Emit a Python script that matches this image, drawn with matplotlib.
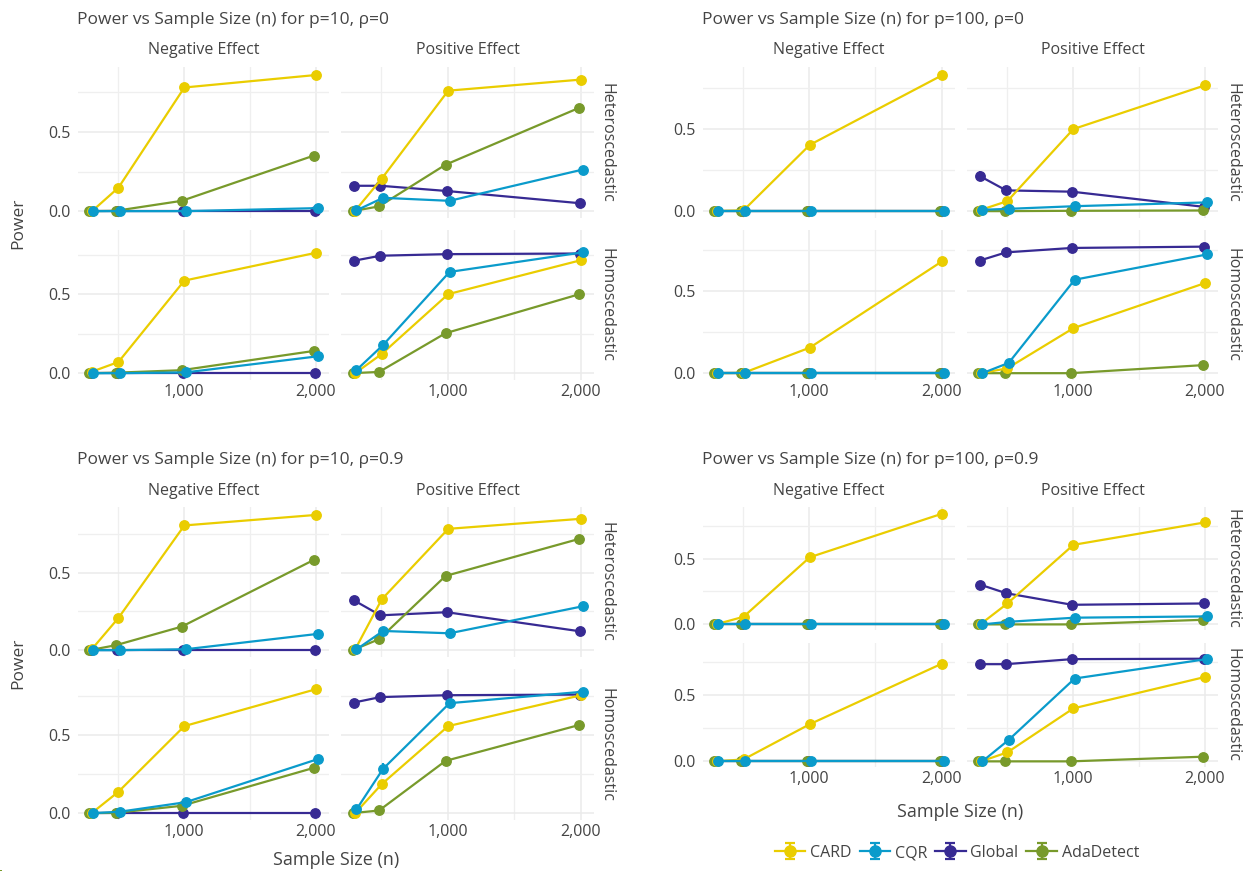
import matplotlib
matplotlib.use("Agg")
import matplotlib.pyplot as plt
from matplotlib.ticker import FuncFormatter

# ---------------------------------------------------------------- data
sample_sizes = [300, 500, 1000, 2000]
methods = ["CARD", "CQR", "Global", "AdaDetect"]
effects = ["Negative Effect", "Positive Effect"]
noise_types = ["Heteroscedastic", "Homoscedastic"]

# Power per facet: rows follow `methods`, columns follow `sample_sizes`
# p = 10, rho = 0
p10_rho0_neg_het = [[0.000, 0.148, 0.780, 0.859],
                    [0.000, 0.000, 0.000, 0.019],
                    [0.000, 0.000, 0.000, 0.000],
                    [0.000, 0.002, 0.065, 0.350]]
p10_rho0_neg_hom = [[0.010, 0.071, 0.588, 0.765],
                    [0.000, 0.000, 0.005, 0.107],
                    [0.000, 0.000, 0.000, 0.000],
                    [0.000, 0.003, 0.019, 0.141]]
p10_rho0_pos_het = [[0.003, 0.205, 0.760, 0.830],
                    [0.005, 0.084, 0.065, 0.262],
                    [0.160, 0.160, 0.127, 0.050],
                    [0.000, 0.030, 0.293, 0.650]]
p10_rho0_pos_hom = [[0.000, 0.122, 0.502, 0.718],
                    [0.020, 0.179, 0.643, 0.767],
                    [0.714, 0.746, 0.756, 0.760],
                    [0.000, 0.008, 0.254, 0.500]]
# p = 100, rho = 0
p100_rho0_neg_het = [[0.000, 0.005, 0.402, 0.825],
                     [0.000, 0.000, 0.000, 0.000],
                     [0.000, 0.000, 0.000, 0.000],
                     [0.000, 0.000, 0.000, 0.000]]
p100_rho0_neg_hom = [[0.000, 0.002, 0.156, 0.684],
                     [0.000, 0.000, 0.000, 0.000],
                     [0.000, 0.000, 0.000, 0.000],
                     [0.000, 0.000, 0.000, 0.000]]
p100_rho0_pos_het = [[0.008, 0.061, 0.498, 0.764],
                     [0.008, 0.014, 0.030, 0.053],
                     [0.213, 0.126, 0.118, 0.026],
                     [0.000, 0.000, 0.002, 0.004]]
p100_rho0_pos_hom = [[0.000, 0.030, 0.275, 0.551],
                     [0.000, 0.063, 0.571, 0.725],
                     [0.688, 0.738, 0.765, 0.773],
                     [0.000, 0.000, 0.000, 0.049]]
# p = 10, rho = 0.9
p10_rho9_neg_het = [[0.008, 0.208, 0.805, 0.873],
                    [0.000, 0.000, 0.006, 0.105],
                    [0.000, 0.000, 0.000, 0.000],
                    [0.000, 0.032, 0.152, 0.582]]
p10_rho9_neg_hom = [[0.002, 0.137, 0.558, 0.795],
                    [0.000, 0.009, 0.070, 0.346],
                    [0.000, 0.000, 0.000, 0.000],
                    [0.000, 0.002, 0.047, 0.290]]
p10_rho9_pos_het = [[0.005, 0.328, 0.783, 0.848],
                    [0.005, 0.124, 0.109, 0.283],
                    [0.322, 0.225, 0.245, 0.122],
                    [0.000, 0.071, 0.479, 0.717]]
p10_rho9_pos_hom = [[0.000, 0.186, 0.558, 0.756],
                    [0.024, 0.284, 0.705, 0.778],
                    [0.709, 0.744, 0.756, 0.760],
                    [0.000, 0.017, 0.335, 0.564]]
# p = 100, rho = 0.9
p100_rho9_neg_het = [[0.003, 0.058, 0.510, 0.841],
                     [0.000, 0.000, 0.000, 0.000],
                     [0.000, 0.000, 0.000, 0.000],
                     [0.000, 0.000, 0.000, 0.000]]
p100_rho9_neg_hom = [[0.000, 0.015, 0.280, 0.737],
                     [0.000, 0.000, 0.000, 0.000],
                     [0.000, 0.000, 0.000, 0.000],
                     [0.000, 0.000, 0.000, 0.000]]
p100_rho9_pos_het = [[0.005, 0.159, 0.604, 0.775],
                     [0.000, 0.020, 0.051, 0.061],
                     [0.303, 0.237, 0.149, 0.159],
                     [0.000, 0.000, 0.000, 0.035]]
p100_rho9_pos_hom = [[0.000, 0.068, 0.399, 0.636],
                     [0.000, 0.162, 0.624, 0.770],
                     [0.732, 0.732, 0.770, 0.773],
                     [0.000, 0.000, 0.000, 0.035]]

# Standard errors, same layout as the power tables
p10_rho0_neg_het_se = [[0.000, 0.010, 0.008, 0.007],
                       [0.000, 0.000, 0.000, 0.006],
                       [0.000, 0.000, 0.000, 0.000],
                       [0.000, 0.002, 0.007, 0.010]]
p10_rho0_neg_hom_se = [[0.004, 0.008, 0.010, 0.008],
                       [0.000, 0.000, 0.003, 0.010],
                       [0.000, 0.000, 0.000, 0.000],
                       [0.000, 0.002, 0.005, 0.010]]
p10_rho0_pos_het_se = [[0.003, 0.025, 0.010, 0.008],
                       [0.004, 0.015, 0.010, 0.025],
                       [0.025, 0.020, 0.015, 0.008],
                       [0.000, 0.006, 0.015, 0.010]]
p10_rho0_pos_hom_se = [[0.000, 0.015, 0.015, 0.010],
                       [0.010, 0.030, 0.012, 0.008],
                       [0.010, 0.008, 0.006, 0.006],
                       [0.000, 0.004, 0.012, 0.010]]
p100_rho0_neg_het_se = [[0.000, 0.004, 0.025, 0.008],
                        [0.000, 0.000, 0.000, 0.000],
                        [0.000, 0.000, 0.000, 0.000],
                        [0.000, 0.000, 0.000, 0.000]]
p100_rho0_neg_hom_se = [[0.000, 0.002, 0.010, 0.010],
                        [0.000, 0.000, 0.000, 0.000],
                        [0.000, 0.000, 0.000, 0.000],
                        [0.000, 0.000, 0.000, 0.000]]
p100_rho0_pos_het_se = [[0.004, 0.010, 0.025, 0.010],
                        [0.004, 0.005, 0.006, 0.008],
                        [0.030, 0.015, 0.012, 0.006],
                        [0.000, 0.000, 0.002, 0.003]]
p100_rho0_pos_hom_se = [[0.000, 0.008, 0.020, 0.010],
                        [0.000, 0.012, 0.012, 0.008],
                        [0.010, 0.008, 0.006, 0.006],
                        [0.000, 0.000, 0.000, 0.006]]
p10_rho9_neg_het_se = [[0.004, 0.012, 0.008, 0.007],
                       [0.000, 0.000, 0.003, 0.010],
                       [0.000, 0.000, 0.000, 0.000],
                       [0.000, 0.006, 0.010, 0.010]]
p10_rho9_neg_hom_se = [[0.002, 0.010, 0.010, 0.008],
                       [0.000, 0.004, 0.008, 0.012],
                       [0.000, 0.000, 0.000, 0.000],
                       [0.000, 0.002, 0.006, 0.010]]
p10_rho9_pos_het_se = [[0.003, 0.025, 0.010, 0.008],
                       [0.004, 0.020, 0.012, 0.025],
                       [0.030, 0.025, 0.025, 0.012],
                       [0.000, 0.008, 0.020, 0.010]]
p10_rho9_pos_hom_se = [[0.000, 0.015, 0.015, 0.010],
                       [0.010, 0.035, 0.012, 0.008],
                       [0.010, 0.008, 0.006, 0.006],
                       [0.000, 0.005, 0.015, 0.010]]
p100_rho9_neg_het_se = [[0.003, 0.008, 0.015, 0.008],
                        [0.000, 0.000, 0.000, 0.000],
                        [0.000, 0.000, 0.000, 0.000],
                        [0.000, 0.000, 0.000, 0.000]]
p100_rho9_neg_hom_se = [[0.000, 0.005, 0.012, 0.010],
                        [0.000, 0.000, 0.000, 0.000],
                        [0.000, 0.000, 0.000, 0.000],
                        [0.000, 0.000, 0.000, 0.000]]
p100_rho9_pos_het_se = [[0.004, 0.012, 0.012, 0.010],
                        [0.000, 0.005, 0.008, 0.008],
                        [0.025, 0.015, 0.012, 0.010],
                        [0.000, 0.000, 0.000, 0.005]]
p100_rho9_pos_hom_se = [[0.000, 0.010, 0.015, 0.010],
                        [0.000, 0.015, 0.012, 0.008],
                        [0.010, 0.008, 0.006, 0.006],
                        [0.000, 0.000, 0.000, 0.005]]

titles = ["Power vs Sample Size (n) for p=10, \u03c1=0",
          "Power vs Sample Size (n) for p=100, \u03c1=0",
          "Power vs Sample Size (n) for p=10, \u03c1=0.9",
          "Power vs Sample Size (n) for p=100, \u03c1=0.9"]

# ---------------------------------------------------------------- style
COLORS = {"CARD": "#EACD00", "CQR": "#0A9BCB", "Global": "#372A93", "AdaDetect": "#789A2B"}
DODGE = {"AdaDetect": -15, "Global": -5, "CARD": 5, "CQR": 15}
ZORDER = {"Global": 2, "AdaDetect": 3, "CARD": 4, "CQR": 5}
TEXT = "#444444"
GRID = "#EBEBEB"
FONT = "Open Sans"
plt.rcParams["font.family"] = [FONT, "DejaVu Sans"]

W, H = 1243, 871
fig = plt.figure(figsize=(W / 100, H / 100), dpi=100)
fig.patch.set_facecolor("white")


def fx(x):
    return x / W


def fy(y):
    return 1 - y / H


def add_px_axes(x0, y0, x1, y1):
    return fig.add_axes([fx(x0), fy(y1), fx(x1) - fx(x0), fy(y0) - fy(y1)])


# panel geometry in pixels: columns, rows, title row, strip row, x label, y label
LEFT_COLS = [(78, 329), (341, 594)]
RIGHT_COLS = [(703, 955), (967, 1218)]
layouts = [
    dict(cols=LEFT_COLS, rows=[(67, 218), (230, 380)], title_y=20, strip_y=50,
         rstrip_x=606, ylabel=True, xlabel_y=None),
    dict(cols=RIGHT_COLS, rows=[(67, 218), (230, 380)], title_y=20, strip_y=50,
         rstrip_x=1232, ylabel=False, xlabel_y=None),
    dict(cols=LEFT_COLS, rows=[(507, 657), (669, 820)], title_y=460, strip_y=491,
         rstrip_x=606, ylabel=True, xlabel_y=860),
    dict(cols=RIGHT_COLS, rows=[(507, 630), (643, 767)], title_y=460, strip_y=491,
         rstrip_x=1232, ylabel=False, xlabel_y=812),
]

group_data = [
    [[p10_rho0_neg_het, p10_rho0_pos_het], [p10_rho0_neg_hom, p10_rho0_pos_hom]],
    [[p100_rho0_neg_het, p100_rho0_pos_het], [p100_rho0_neg_hom, p100_rho0_pos_hom]],
    [[p10_rho9_neg_het, p10_rho9_pos_het], [p10_rho9_neg_hom, p10_rho9_pos_hom]],
    [[p100_rho9_neg_het, p100_rho9_pos_het], [p100_rho9_neg_hom, p100_rho9_pos_hom]],
]
group_se = [
    [[p10_rho0_neg_het_se, p10_rho0_pos_het_se], [p10_rho0_neg_hom_se, p10_rho0_pos_hom_se]],
    [[p100_rho0_neg_het_se, p100_rho0_pos_het_se], [p100_rho0_neg_hom_se, p100_rho0_pos_hom_se]],
    [[p10_rho9_neg_het_se, p10_rho9_pos_het_se], [p10_rho9_neg_hom_se, p10_rho9_pos_hom_se]],
    [[p100_rho9_neg_het_se, p100_rho9_pos_het_se], [p100_rho9_neg_hom_se, p100_rho9_pos_hom_se]],
]

x_lo = min(sample_sizes) + min(DODGE.values())
x_hi = max(sample_sizes) + max(DODGE.values())
x_pad = 0.05 * (x_hi - x_lo)
XLIM = (x_lo - x_pad, x_hi + x_pad)

yfmt = FuncFormatter(lambda v, _: f"{v:.1f}")
xfmt = FuncFormatter(lambda v, _: f"{int(v):,}")

for gi, lay in enumerate(layouts):
    vals = group_data[gi]
    ses = group_se[gi]
    lo = min(v - e for r in range(2) for c in range(2)
             for mv, me in zip(vals[r][c], ses[r][c]) for v, e in zip(mv, me))
    hi = max(v + e for r in range(2) for c in range(2)
             for mv, me in zip(vals[r][c], ses[r][c]) for v, e in zip(mv, me))
    pad = 0.05 * (hi - lo)
    ylim = (lo - pad, hi + pad)

    for r, (y0, y1) in enumerate(lay["rows"]):
        for c, (x0, x1) in enumerate(lay["cols"]):
            ax = add_px_axes(x0, y0, x1, y1)
            ax.set_facecolor("white")
            for s in ax.spines.values():
                s.set_visible(False)
            for mi, m in enumerate(methods):
                xs = [n + DODGE[m] for n in sample_sizes]
                ax.errorbar(xs, vals[r][c][mi], yerr=ses[r][c][mi], color=COLORS[m],
                            lw=1.6, marker="o", ms=6.8, elinewidth=1.6, capsize=0,
                            zorder=ZORDER[m])
            ax.set_xlim(*XLIM)
            ax.set_ylim(*ylim)
            ax.set_xticks([1000, 2000])
            ax.set_xticks([500, 1500], minor=True)
            ax.set_yticks([0.0, 0.5])
            ax.set_yticks([0.25, 0.75], minor=True)
            ax.grid(which="major", color=GRID, lw=1.1, zorder=0)
            ax.grid(which="minor", color="#EFEFEF", lw=0.9, zorder=0)
            ax.set_axisbelow(True)
            ax.tick_params(which="both", length=0, labelsize=11.5, labelcolor=TEXT)
            ax.tick_params(axis="y", pad=5)
            ax.tick_params(axis="x", pad=3)
            ax.yaxis.set_major_formatter(yfmt)
            ax.xaxis.set_major_formatter(xfmt)
            if c != 0:
                ax.set_yticklabels([])
            if r != 1:
                ax.set_xticklabels([])
            if r == 0:
                fig.text(fx((x0 + x1) / 2), fy(lay["strip_y"]), effects[c],
                         ha="center", va="center", fontsize=11.5, color=TEXT)
        fig.text(fx(lay["rstrip_x"]), fy((y0 + y1) / 2), noise_types[r], rotation=-90,
                 ha="center", va="center", fontsize=11.5, color=TEXT)

    gx0 = lay["cols"][0][0]
    gx1 = lay["cols"][1][1]
    gy0 = lay["rows"][0][0]
    gy1 = lay["rows"][1][1]
    fig.text(fx(gx0 - 1), fy(lay["title_y"]), titles[gi], ha="left", va="center",
             fontsize=12.5, color=TEXT)
    if lay["ylabel"]:
        fig.text(fx(18), fy((gy0 + gy1) / 2), "Power", rotation=90, ha="center",
                 va="center", fontsize=12.5, color=TEXT)
    if lay["xlabel_y"] is not None:
        fig.text(fx((gx0 + gx1) / 2), fy(lay["xlabel_y"]), "Sample Size (n)",
                 ha="center", va="center", fontsize=13, color=TEXT)

# legend with error-bar style keys
dummy = fig.add_axes([0, 0, 0.001, 0.001])
dummy.set_axis_off()
handles = []
for m in methods:
    h = dummy.errorbar([0], [0], yerr=[1], color=COLORS[m], lw=1.6, marker="o",
                       ms=8, capsize=3.5, elinewidth=1.6, capthick=1.6)
    handles.append(h)
leg = fig.legend(handles, methods, loc="center", bbox_to_anchor=(fx(957), fy(853)),
                 ncol=4, frameon=False, fontsize=11.5, handlelength=1.9,
                 handletextpad=0.3, columnspacing=0.5)
for t in leg.get_texts():
    t.set_color(TEXT)

fig.savefig("out.png", dpi=100, facecolor="white")
